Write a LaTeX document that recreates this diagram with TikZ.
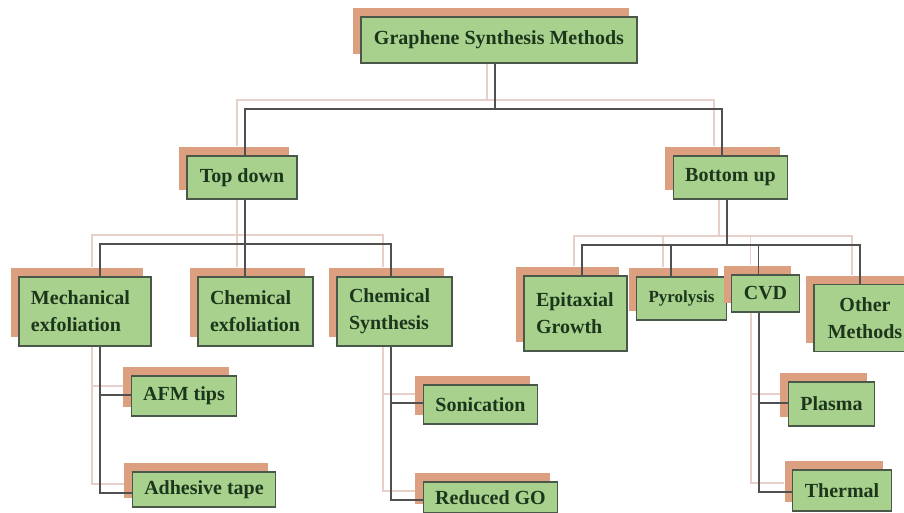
\documentclass[tikz,border=0pt]{standalone}
\usepackage{fontspec}
\setmainfont{Liberation Serif}
\usetikzlibrary{calc,shadows,backgrounds}

\definecolor{boxgreen}{HTML}{A9D18E}
\definecolor{shadeorange}{HTML}{DCA081}
\definecolor{boxline}{HTML}{4A584A}
\definecolor{textgreen}{HTML}{1C361C}
\definecolor{linkgray}{HTML}{505050}
\definecolor{linkfaint}{HTML}{E6D0C9}

\tikzset{
  box/.style={draw=boxline, fill=boxgreen, line width=0.6pt, inner xsep=6pt, inner ysep=2pt,
    font=\fontsize{10}{13.5}\selectfont\bfseries, text=textgreen,
    drop shadow={shadow xshift=-4pt, shadow yshift=4.5pt, fill=shadeorange, opacity=1}},
  link/.style={draw=linkgray, line width=0.75pt},
  faint/.style={draw=linkfaint, line width=0.6pt}
}

\newcommand\drawlinks[1]{%
  \draw[#1] (root.south -| r0) -- (r0) -| ($(td.north)+(3,0)$);
  \draw[#1] (r0) -| ($(bu.north)+(-8.5,0)$);
  \draw[#1] (td.south -| t0) -- (t0) -| ($(mech.north)+(15,0)$);
  \draw[#1] (t0) -- (chex.north -| t0);
  \draw[#1] (t0) -| ($(chsy.north)+(-3.5,0)$);
  \draw[#1] (bu.south -| b0) -- (b0) -| ($(epi.north)+(6.5,0)$);
  \draw[#1] (b0) -| ($(pyr.north)+(-10.5,0)$);
  \draw[#1] (b0) -| ($(cvd.north)+(-7,0)$);
  \draw[#1] (b0) -| ($(oth.north)+(-5,0)$);
  \draw[#1] ($(mech.south)+(15,0)$) |- ($(afm.west)+(0,-1)$);
  \draw[#1] ($(mech.south)+(15,0)$) |- ($(adh.west)+(0,3.5)$);
  \draw[#1] ($(chsy.south)+(-3.5,0)$) |- ($(son.west)+(0,-1.5)$);
  \draw[#1] ($(chsy.south)+(-3.5,0)$) |- ($(rgo.west)+(0,2.5)$);
  \draw[#1] ($(cvd.south)+(-6.5,0)$) |- ($(plasma.west)+(0,-1)$);
  \draw[#1] ($(cvd.south)+(-6.5,0)$) |- ($(thermal.west)+(0,1.5)$);
}

\begin{document}
\begin{tikzpicture}[x=0.5pt, y=-0.5pt]

\useasboundingbox (0,0) rectangle (904,513);

% level 0 and 1
\node[box, minimum width=138pt, minimum height=23pt] (root) at (499,40) {Graphene Synthesis Methods};
\node[box, minimum width=55pt, minimum height=21.5pt] (td) at (242,177.5) {Top down};
\node[box, minimum width=56.5pt, minimum height=21.5pt] (bu) at (730.5,177.5) {Bottom up};

% top down branch
\node[box, text width=54pt, align=left, minimum height=34.5pt] (mech) at (85,311.5) {Mechanical\\exfoliation};
\node[box, text width=45.5pt, align=left, minimum height=34.5pt] (chex) at (255.5,311.5) {Chemical\\exfoliation};
\node[box, text width=45.5pt, align=left, minimum height=34.5pt] (chsy) at (394.5,311.5) {Chemical\\Synthesis};
\node[box, minimum width=52pt, minimum height=20pt] (afm) at (184,396) {AFM tips};
\node[box, minimum width=71pt, minimum height=17.5pt] (adh) at (204,489.5) {Adhesive tape};
\node[box, minimum width=56.5pt, minimum height=19.5pt] (son) at (480.5,404.5) {Sonication};
\node[box, minimum width=66.5pt, minimum height=15.5pt] (rgo) at (490.5,497.5) {Reduced GO};

% bottom up branch
\node[box, text width=39.5pt, align=left, minimum height=37.5pt] (epi) at (575.5,313.5) {Epitaxial\\Growth};
\node[box, minimum width=44.5pt, minimum height=21.5pt, font=\fontsize{8.5}{10}\selectfont\bfseries] (pyr) at (681.5,298.5) {Pyrolysis};
\node[box, minimum width=33.5pt, minimum height=18.5pt] (cvd) at (765.5,293.5) {CVD};
\node[box, align=center, minimum width=51pt, minimum height=33.5pt] (oth) at (865,318) {Other\\Methods};
\node[box, minimum width=42.5pt, minimum height=22pt] (plasma) at (831.5,404) {Plasma};
\node[box, minimum width=49pt, minimum height=20.5pt] (thermal) at (842,490.5) {Thermal};

\coordinate (r0) at (495,109);
\coordinate (t0) at (245,244);
\coordinate (b0) at (727,245);

\begin{pgfonlayer}{background}
\fill[white] (0,0) rectangle (904,513);
\begin{scope}[transform canvas={shift={(-4pt,4.5pt)}}]
\drawlinks{faint}
\end{scope}
\end{pgfonlayer}
\drawlinks{link}

\end{tikzpicture}
\end{document}
